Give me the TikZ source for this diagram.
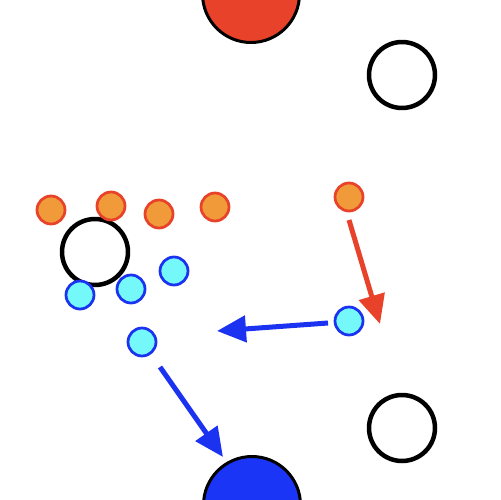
\documentclass[tikz,border=0pt]{standalone}
\usetikzlibrary{arrows.meta}
\definecolor{redfill}{HTML}{E8432A}
\definecolor{orfill}{HTML}{F09A3A}
\definecolor{cyfill}{HTML}{74F8FA}
\definecolor{bluestroke}{HTML}{1B33F0}
\definecolor{bigblue}{HTML}{1A35F5}
\tikzset{
  orb/.style={circle,draw=redfill,fill=orfill,line width=0.055cm,minimum size=0.56cm,inner sep=0pt},
  cyb/.style={circle,draw=bluestroke,fill=cyfill,line width=0.055cm,minimum size=0.56cm,inner sep=0pt},
  ring/.style={circle,draw=black,line width=0.09cm,minimum size=1.32cm,inner sep=0pt},
  big/.style={circle,draw=black,line width=0.06cm,minimum size=1.94cm,inner sep=0pt},
  arr/.style={line width=0.1cm,-{Triangle[length=0.58cm,width=0.52cm]}}
}
\begin{document}
\begin{tikzpicture}[x=0.02cm,y=-0.02cm]
\useasboundingbox (0,0) rectangle (500,500);
\clip (0,0) rectangle (500,500);
\node[big,fill=redfill] (topred) at (251,-6) {};
\node[big,fill=bigblue] (botblue) at (252,505) {};
\node[ring] (ringtr) at (402,75) {};
\node[ring] (ringbr) at (402,428) {};
\node[ring] (ringl) at (95,252) {};
\node[orb] (o1) at (51,210) {};
\node[orb] (o2) at (111,206) {};
\node[orb] (o3) at (159,214) {};
\node[orb] (o4) at (215,207) {};
\node[orb] (o5) at (349,197) {};
\node[cyb] (c1) at (80,295) {};
\node[cyb] (c2) at (131,289) {};
\node[cyb] (c3) at (174,271) {};
\node[cyb] (c4) at (142,342) {};
\node[cyb] (c5) at (349,321) {};
\coordinate (ra) at (349,220);
\coordinate (rb) at (380,324);
\coordinate (ha) at (328,323);
\coordinate (hb) at (217,331);
\coordinate (da) at (160,367);
\coordinate (db) at (223,457);
\draw[arr,draw=redfill,fill=redfill] (ra) -- (rb);
\draw[arr,draw=bluestroke,fill=bluestroke] (ha) -- (hb);
\draw[arr,draw=bluestroke,fill=bluestroke] (da) -- (db);
\end{tikzpicture}
\end{document}
